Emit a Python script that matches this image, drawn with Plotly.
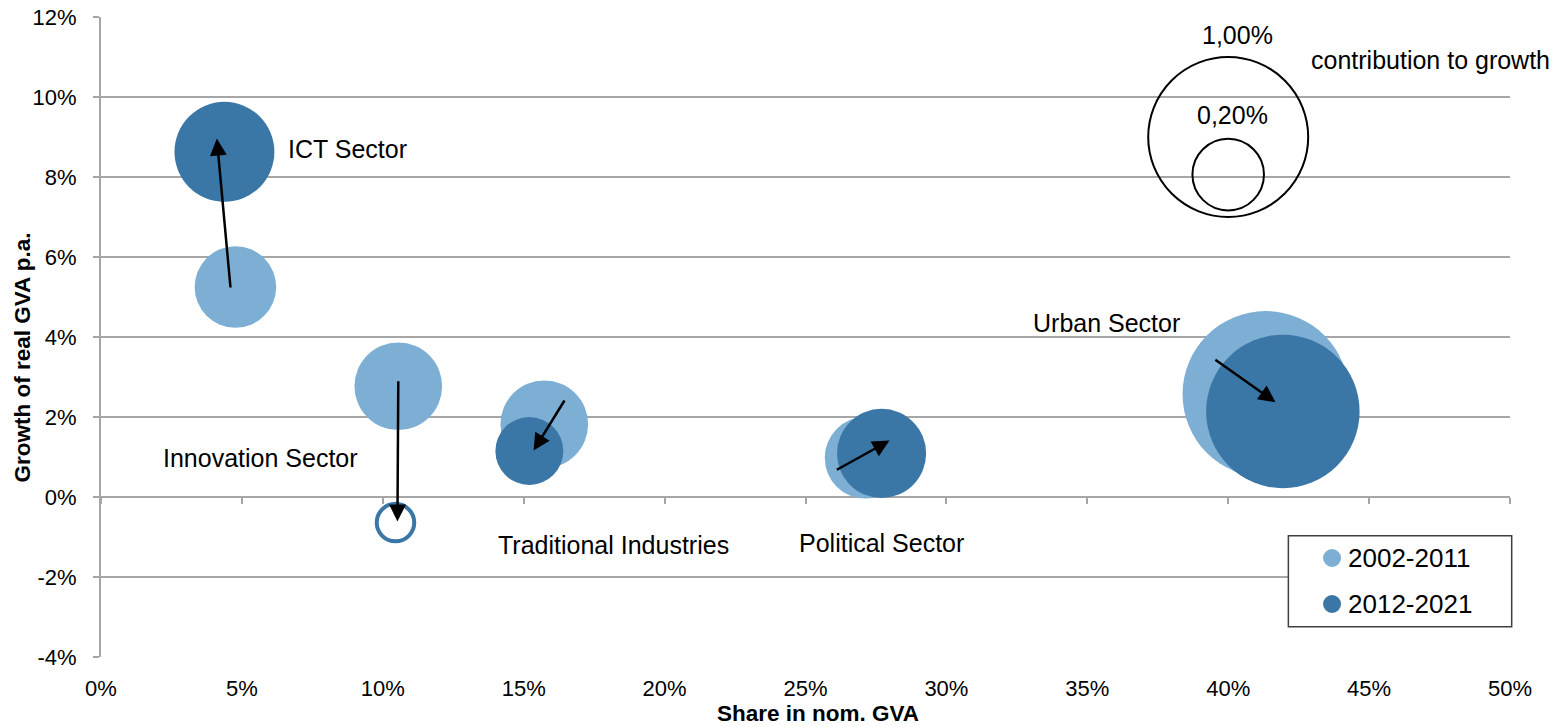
import math
import plotly.graph_objects as go

# ---- data -------------------------------------------------------------
sectors = ["ICT Sector", "Innovation Sector", "Traditional Industries",
           "Political Sector", "Urban Sector"]

# share in nominal GVA (%), growth of real GVA p.a. (%), contribution to growth (pp)
share_2002_2011 = [4.77, 10.55, 15.73, 27.13, 41.33]
growth_2002_2011 = [5.25, 2.77, 1.82, 0.98, 2.57]
contrib_2002_2011 = [0.26, 0.30, 0.30, 0.26, 1.08]

share_2012_2021 = [4.38, 10.45, 15.20, 27.70, 41.94]
growth_2012_2021 = [8.63, -0.64, 1.15, 1.09, 2.14]
contrib_2012_2021 = [0.39, -0.055, 0.18, 0.31, 0.92]

periods = ["2002-2011", "2012-2021"]

# movement arrows from the first to the second period
arrow_start_x = [4.60, 10.55, 16.48, 26.06, 39.49]
arrow_start_y = [5.20, 2.93, 2.45, 0.66, 3.46]
arrow_end_x = [4.11, 10.52, 15.35, 27.98, 41.68]
arrow_end_y = [8.96, -0.61, 1.16, 1.41, 2.37]

# sector label anchors
label_x = [8.73, 5.65, 18.20, 27.68, 35.69]
label_y = [8.71, 0.98, -1.19, -1.15, 4.36]

# bubble size key
key_contrib = [1.00, 0.20]
key_x = [40.0, 40.0]
key_y = [9.00, 8.06]
key_label_x = [40.33, 40.15]
key_label_y = [11.56, 9.56]

x_ticks = [0, 5, 10, 15, 20, 25, 30, 35, 40, 45, 50]
y_ticks = [-4, -2, 0, 2, 4, 6, 8, 10, 12]

# ---- styling ----------------------------------------------------------
LIGHT = "#7DAED4"
DARK = "#3A76A6"
GRID = "#A6A6A6"
FONT = "Liberation Sans, Arial, sans-serif"
UNIT_RADIUS = 80  # px radius of a bubble worth 1 percentage point


def diameter(c):
    return 2 * UNIT_RADIUS * math.sqrt(abs(c))


fig = go.Figure()

fig.add_trace(go.Scatter(
    x=share_2002_2011, y=growth_2002_2011, mode="markers", name=periods[0],
    text=sectors, showlegend=False,
    marker=dict(size=[diameter(c) for c in contrib_2002_2011], sizemode="diameter",
                sizeref=1, color=LIGHT, opacity=1, line=dict(width=0)),
))

# negative contributions are drawn as rings
fig.add_trace(go.Scatter(
    x=share_2012_2021, y=growth_2012_2021, mode="markers", name=periods[1],
    text=sectors, showlegend=False,
    marker=dict(size=[diameter(c) for c in contrib_2012_2021], sizemode="diameter",
                sizeref=1, opacity=1,
                color=[DARK if c > 0 else "rgba(0,0,0,0)" for c in contrib_2012_2021],
                line=dict(color=DARK,
                          width=[0 if c > 0 else 4 for c in contrib_2012_2021])),
))

# size key circles (on the overlay axis that carries the ticks at y = 0)
fig.add_trace(go.Scatter(
    x=key_x, y=key_y, mode="markers", showlegend=False, xaxis="x2", yaxis="y",
    marker=dict(size=[diameter(c) for c in key_contrib], sizemode="diameter", sizeref=1,
                opacity=1, color="rgba(0,0,0,0)", line=dict(color="black", width=2)),
    hoverinfo="skip",
))

annotations = []
for x0, y0, x1, y1 in zip(arrow_start_x, arrow_start_y, arrow_end_x, arrow_end_y):
    annotations.append(dict(
        x=x1, y=y1, ax=x0, ay=y0, xref="x", yref="y", axref="x", ayref="y",
        showarrow=True, arrowhead=2, arrowsize=1.35, arrowwidth=2.5,
        arrowcolor="black", standoff=0, text="",
    ))

for name, lx, ly in zip(sectors, label_x, label_y):
    annotations.append(dict(x=lx, y=ly, xref="x", yref="y", text=name,
                            showarrow=False, font=dict(size=25, color="black", family=FONT)))

for c, lx, ly in zip(key_contrib, key_label_x, key_label_y):
    annotations.append(dict(x=lx, y=ly, xref="x", yref="y",
                            text=f"{c:.2f}".replace(".", ",") + "%",
                            showarrow=False, font=dict(size=25, color="black", family=FONT)))

annotations.append(dict(x=47.18, y=10.93, xref="x", yref="y", text="contribution to growth",
                        showarrow=False, font=dict(size=25, color="black", family=FONT)))

# axis titles
annotations.append(dict(x=0.509, y=-0.088, xref="paper", yref="paper",
                        text="<b>Share in nom. GVA</b>", showarrow=False,
                        xanchor="center", yanchor="middle",
                        font=dict(size=22.5, color="black", family=FONT)))
annotations.append(dict(x=-0.056, y=0.468, xref="paper", yref="paper",
                        text="<b>Growth of real GVA p.a.</b>", showarrow=False,
                        textangle=-90, xanchor="center", yanchor="middle",
                        font=dict(size=22.5, color="black", family=FONT)))

# legend box with one swatch per period
shapes = [dict(type="rect", xref="paper", yref="paper",
               x0=0.8427, x1=1.0012, y0=0.0473, y1=0.1895,
               line=dict(color="#404040", width=1.5), fillcolor="white", layer="above")]
legend_rows_y = [0.1547, 0.0828]
for period, colour, ry in zip(periods, [LIGHT, DARK], legend_rows_y):
    shapes.append(dict(type="circle", xref="paper", yref="paper",
                       xsizemode="pixel", ysizemode="pixel",
                       xanchor=0.8737, yanchor=ry, x0=-9, x1=9, y0=-9, y1=9,
                       fillcolor=colour, line=dict(width=0), layer="above"))
    annotations.append(dict(x=0.8836, y=ry, xref="paper", yref="paper", text=period,
                            showarrow=False, xanchor="left", yanchor="middle",
                            font=dict(size=26, color="black", family=FONT)))

fig.update_layout(
    width=1568, height=727,
    margin=dict(l=101, r=58, t=17, b=70, autoexpand=False),
    plot_bgcolor="white", paper_bgcolor="white",
    font=dict(family=FONT, size=22, color="black"),
    showlegend=False,
    annotations=annotations,
    shapes=shapes,
    xaxis=dict(range=[0, 50], tickvals=x_ticks, ticktext=[f"{v}%" for v in x_ticks],
               showgrid=False, zeroline=False, showline=False, ticks="",
               ticklabelstandoff=16, tickfont=dict(size=22)),
    xaxis2=dict(range=[0, 50], matches="x", overlaying="x", anchor="free", position=0.25,
                tickvals=x_ticks, showticklabels=False, ticks="outside", ticklen=6,
                tickwidth=2, tickcolor=GRID, showgrid=False, zeroline=False,
                showline=False),
    yaxis=dict(range=[-4, 12], tickvals=y_ticks, ticktext=[f"{v}%" for v in y_ticks],
               showgrid=True, gridcolor=GRID, gridwidth=2, zeroline=False,
               showline=True, linecolor=GRID, linewidth=2,
               ticks="outside", ticklen=6, tickwidth=2, tickcolor=GRID,
               ticklabelstandoff=12, tickfont=dict(size=22)),
)

fig.write_html("out.html")
